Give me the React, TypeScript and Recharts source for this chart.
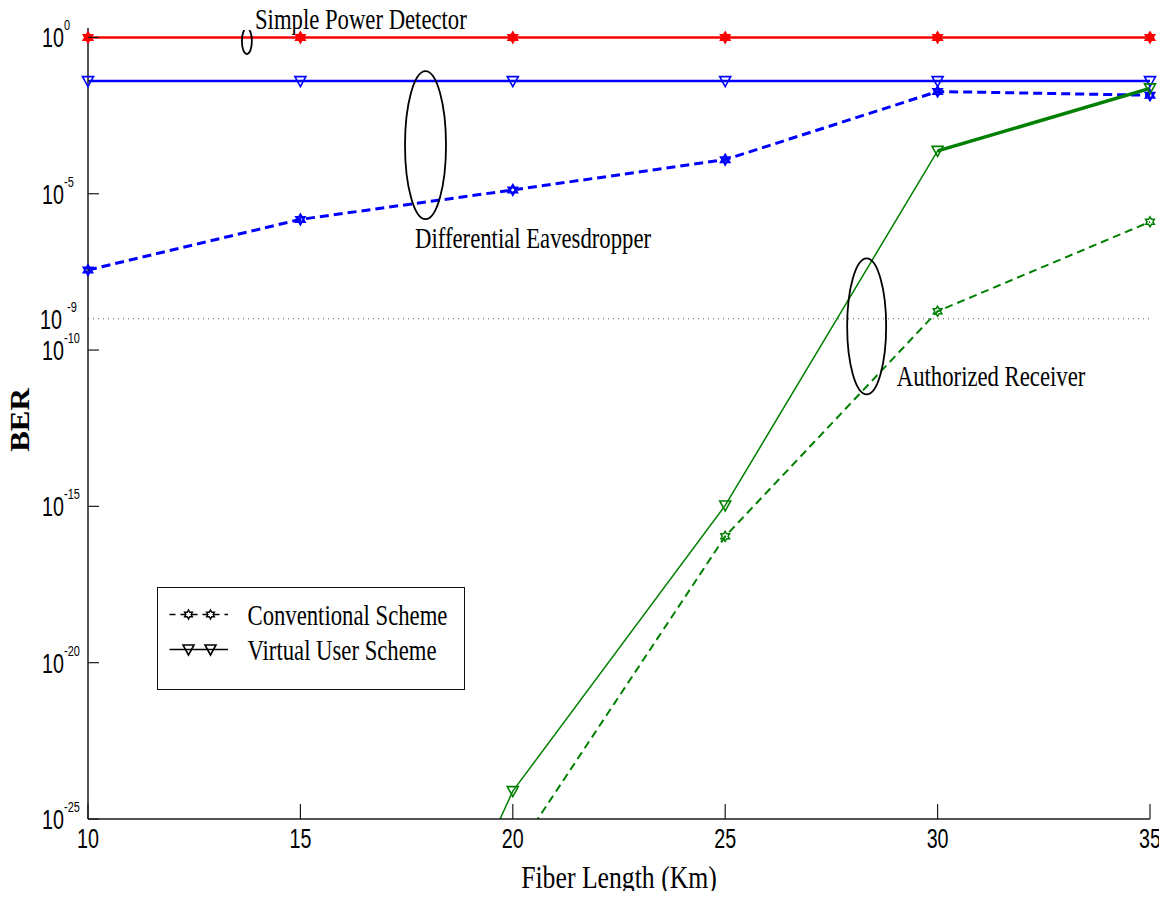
import React from 'react';
import { LineChart, Line, XAxis, YAxis, ReferenceLine, ReferenceDot, Legend } from 'recharts';

// fiber length (km) on x, BER on a log y axis
const fiberKm = [10, 15, 20, 25, 30, 35];
const kmTicks = [10, 15, 20, 25, 30, 35];
const berTicks = [1, 1e-5, 1e-10, 1e-15, 1e-20, 1e-25];
const berThreshold = 1e-9;

// simple power detector
const powerDetector = [1, 1, 1, 1, 1, 1];
// differential eavesdropper
const eveVirtual = [4.0e-2, 4.0e-2, 4.0e-2, 4.0e-2, 4.0e-2, 4.0e-2];
const eveConventional = [3.63e-8, 1.51e-6, 1.32e-5, 1.23e-4, 1.86e-2, 1.41e-2];
// authorized receiver
const rxVirtual = [null, 1e-39, 7.8e-25, 1.07e-15, 2.34e-4, 2.34e-2];
const rxConventional = [null, null, 6.3e-27, 1.1e-16, 1.74e-9, 1.26e-6];

const notes = [
  { text: 'Simple Power Detector', km: 13.93, ber: 1.845, mask: true },
  { text: 'Differential Eavesdropper', km: 17.7, ber: 1.81e-7, mask: false },
  { text: 'Authorized Receiver', km: 29.04, ber: 6.92e-12, mask: false },
];

const rings = [
  { km: 13.74, ber: 0.762, rx: 5, ry: 13 },
  { km: 17.945, ber: 3.58e-4, rx: 20.5, ry: 74 },
  { km: 28.33, ber: 5.75e-10, rx: 19.5, ry: 68 },
];

const legendItems = [
  { label: 'Conventional Scheme', marker: 'hexagram', dashed: true },
  { label: 'Virtual User Scheme', marker: 'triangle', dashed: false },
];

const rows = fiberKm.map((km, i) => ({
  km,
  power: powerDetector[i],
  eveV: eveVirtual[i],
  eveC: eveConventional[i],
  rxV: rxVirtual[i],
  rxVTail: i >= 4 ? rxVirtual[i] : null,
  rxC: rxConventional[i],
}));

const AXIS = '#1a1a1a';
const RED = '#ff0000';
const BLUE = '#0000ff';
const GREEN = '#008000';
const SANS = "'Liberation Sans', Arial, sans-serif";
const SERIF = "'Liberation Serif', 'Times New Roman', serif";

const starPoints = (cx: number, cy: number, r: number) =>
  Array.from({ length: 12 }, (_, i) => {
    const a = ((-90 + i * 30) * Math.PI) / 180;
    const rr = i % 2 === 0 ? r : r * 0.58;
    return `${cx + rr * Math.cos(a)},${cy + rr * Math.sin(a)}`;
  }).join(' ');

const Hexagram = ({ cx, cy, r, stroke, sw, fill }: any) => (
  <polygon points={starPoints(cx, cy, r)} stroke={stroke} strokeWidth={sw} fill={fill} />
);

const TriDown = ({ cx, cy, stroke, sw }: any) => (
  <polygon
    points={`${cx - 5.5},${cy - 4.5} ${cx + 5.5},${cy - 4.5} ${cx},${cy + 5.5}`}
    stroke={stroke}
    strokeWidth={sw}
    fill="none"
  />
);

const makeDot = (kind: string, color: string, sw: number, fill: string, r = 5) => (props: any) => {
  const { cx, cy, index, value } = props;
  if (cx == null || cy == null || value == null) return <g key={index} />;
  return (
    <g key={index}>
      {kind === 'tri' ? (
        <TriDown cx={cx} cy={cy} stroke={color} sw={sw} />
      ) : (
        <Hexagram cx={cx} cy={cy} r={r} stroke={color} sw={sw} fill={fill} />
      )}
    </g>
  );
};

// "10" with a raised exponent, narrow like the axis font
const Power = ({ x, y, exp, gap = 22 }: any) => (
  <g>
    <g transform={`translate(${x},${y + 10}) scale(0.73,1)`}>
      <text fontFamily={SANS} fontSize={27} fill="#000">10</text>
    </g>
    <g transform={`translate(${x + gap},${y - 7}) scale(0.73,1)`}>
      <text fontFamily={SANS} fontSize={15} fill="#000">{exp}</text>
    </g>
  </g>
);

const LeftTick = ({ x, y, payload }: any) => {
  const exp = Math.round(Math.log10(payload.value));
  return (
    <g>
      <line x1={x} x2={x + 11} y1={y} y2={y} stroke={AXIS} strokeWidth={1.2} />
      <Power x={x - 46} y={y} exp={String(exp)} />
    </g>
  );
};

const RightTick = ({ x, y }: any) => (
  <line x1={x} x2={x - 11} y1={y} y2={y} stroke={AXIS} strokeWidth={1.2} />
);

const BottomTick = ({ x, y, payload }: any) => (
  <g>
    <line x1={x} x2={x} y1={y} y2={y - 15} stroke={AXIS} strokeWidth={1.2} />
    <g transform={`translate(${x},${y + 29}) scale(0.73,1)`}>
      <text textAnchor="middle" fontFamily={SANS} fontSize={27} fill="#000">{payload.value}</text>
    </g>
  </g>
);

const TopTick = ({ x, y }: any) => (
  <line x1={x} x2={x} y1={y} y2={y + 15} stroke={AXIS} strokeWidth={1.2} />
);

const NoteText = ({ cx, cy, text, mask }: any) => (
  <g>
    {mask && <rect x={cx - 12} y={cy - 4} width={226} height={5} fill="#fff" />}
    <g transform={`translate(${cx},${cy}) scale(0.77,1)`}>
      <text fontFamily={SERIF} fontSize={29.5} fill="#000">{text}</text>
    </g>
  </g>
);

const SchemeLegend = () => (
  <div
    style={{
      width: 308,
      height: 103,
      border: '1.5px solid #111',
      boxSizing: 'border-box',
      background: '#fff',
    }}
  >
    <svg width={305} height={100} style={{ display: 'block' }}>
      {legendItems.map((item, i) => {
        const y = 26.5 + i * 35;
        return (
          <g key={item.label}>
            <line
              x1={11.5}
              x2={70}
              y1={y}
              y2={y}
              stroke="#000"
              strokeWidth={1.6}
              strokeDasharray={item.dashed ? '6 5' : undefined}
            />
            {[30.5, 52.5].map((cx) =>
              item.marker === 'hexagram' ? (
                <Hexagram key={cx} cx={cx} cy={y} r={4.5} stroke="#000" sw={1.4} fill="#fff" />
              ) : (
                <TriDown key={cx} cx={cx} cy={y} stroke="#000" sw={1.6} />
              )
            )}
            <g transform={`translate(89.5,${y + 10.5}) scale(0.77,1)`}>
              <text fontFamily={SERIF} fontSize={29.5} fill="#000">{item.label}</text>
            </g>
          </g>
        );
      })}
    </svg>
  </div>
);

export default function App() {
  return (
    // cancel the body margin so the chart fills the whole page
    <div style={{ margin: -8 }}>
      <LineChart
        width={1167}
        height={899}
        data={rows}
        margin={{ top: 28, right: 17, bottom: 50, left: 28 }}
      >
        <XAxis
          dataKey="km"
          type="number"
          domain={[10, 35]}
          ticks={kmTicks}
          interval={0}
          height={30}
          tickSize={0}
          tickMargin={0}
          tickLine={false}
          axisLine={{ stroke: AXIS, strokeWidth: 1.5 }}
          tick={(p: any) => <BottomTick {...p} />}
          label={(p: any) => {
            const vb = p.viewBox;
            return (
              <g transform={`translate(${vb.x + vb.width / 2},${vb.y + 69}) scale(0.83,1)`}>
                <text textAnchor="middle" fontFamily={SERIF} fontSize={31} fill="#000">
                  Fiber Length (Km)
                </text>
              </g>
            );
          }}
        />
        <XAxis
          xAxisId="top"
          orientation="top"
          dataKey="km"
          type="number"
          domain={[10, 35]}
          ticks={kmTicks}
          interval={0}
          height={0}
          tickSize={0}
          tickMargin={0}
          tickLine={false}
          axisLine={{ stroke: AXIS, strokeWidth: 1.5 }}
          tick={(p: any) => <TopTick {...p} />}
        />
        <YAxis
          type="number"
          scale="log"
          domain={[1e-25, 2]}
          ticks={berTicks}
          interval={0}
          allowDataOverflow
          width={60}
          tickSize={0}
          tickMargin={0}
          tickLine={false}
          axisLine={{ stroke: AXIS, strokeWidth: 1.5 }}
          tick={(p: any) => <LeftTick {...p} />}
          label={(p: any) => {
            const vb = p.viewBox;
            return (
              <g transform={`translate(29,${vb.y + vb.height / 2 - 3.5}) rotate(-90) scale(1,0.85)`}>
                <text textAnchor="middle" fontFamily={SERIF} fontSize={31} fontWeight="bold" fill="#000">
                  BER
                </text>
              </g>
            );
          }}
        />
        <YAxis
          yAxisId="right"
          orientation="right"
          type="number"
          scale="log"
          domain={[1e-25, 2]}
          ticks={berTicks}
          interval={0}
          allowDataOverflow
          width={0}
          tickSize={0}
          tickMargin={0}
          tickLine={false}
          axisLine={{ stroke: AXIS, strokeWidth: 1.5 }}
          tick={(p: any) => <RightTick {...p} />}
        />

        <ReferenceLine
          y={berThreshold}
          stroke="#555"
          strokeWidth={1}
          strokeDasharray="1 4"
          label={(p: any) => <Power x={p.viewBox.x - 48} y={p.viewBox.y} exp="-9" gap={27} />}
        />

        <Line
          dataKey="power"
          stroke={RED}
          strokeWidth={2.5}
          dot={makeDot('star', RED, 1.5, RED, 5.5)}
          isAnimationActive={false}
        />
        <Line
          dataKey="eveV"
          stroke={BLUE}
          strokeWidth={2.5}
          dot={makeDot('tri', BLUE, 1.6, 'none')}
          isAnimationActive={false}
        />
        <Line
          dataKey="eveC"
          stroke={BLUE}
          strokeWidth={3}
          strokeDasharray="9 5"
          dot={makeDot('star', BLUE, 2.5, 'none', 4.5)}
          isAnimationActive={false}
        />
        <Line
          dataKey="rxC"
          stroke={GREEN}
          strokeWidth={2}
          strokeDasharray="8 5"
          dot={makeDot('star', GREEN, 1.5, 'none', 5)}
          isAnimationActive={false}
        />
        <Line
          dataKey="rxV"
          stroke={GREEN}
          strokeWidth={1.5}
          dot={makeDot('tri', GREEN, 1.6, 'none')}
          isAnimationActive={false}
        />
        <Line
          dataKey="rxVTail"
          stroke={GREEN}
          strokeWidth={3.5}
          dot={false}
          isAnimationActive={false}
        />

        {rings.map((r, i) => (
          <ReferenceDot
            key={`ring-${i}`}
            x={r.km}
            y={r.ber}
            shape={(p: any) => (
              <ellipse cx={p.cx} cy={p.cy} rx={r.rx} ry={r.ry} fill="none" stroke="#000" strokeWidth={1.8} />
            )}
          />
        ))}
        {notes.map((n) => (
          <ReferenceDot
            key={n.text}
            x={n.km}
            y={n.ber}
            shape={(p: any) => <NoteText cx={p.cx} cy={p.cy} text={n.text} mask={n.mask} />}
          />
        ))}

        <Legend
          layout="vertical"
          align="center"
          verticalAlign="middle"
          content={() => <SchemeLegend />}
          wrapperStyle={{ left: 157, top: 587, width: 308, height: 103 }}
        />
      </LineChart>
    </div>
  );
}
